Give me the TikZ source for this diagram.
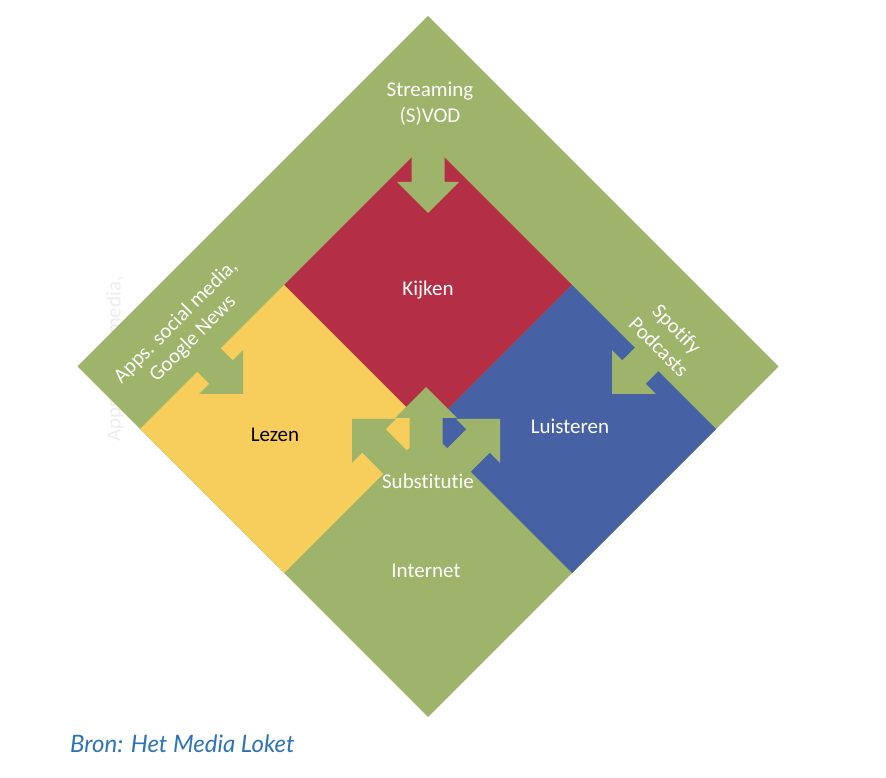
\documentclass[tikz,border=0pt]{standalone}
\usepackage{fontspec}
\setmainfont{Carlito}[Ligatures=NoCommon]
\newfontfamily\bronfont{Lato}
\definecolor{gr}{HTML}{9EB46A}
\definecolor{rd}{HTML}{B42E46}
\definecolor{yl}{HTML}{F7CE5C}
\definecolor{bl}{HTML}{4662A5}
\definecolor{ghost}{HTML}{EDEDED}
\definecolor{bron}{HTML}{2E74B5}
\newcommand{\garrow}[3]{%
  \begin{scope}[shift={#1},rotate=#2]
    \fill[gr] (0,0) -- (-31,31) -- (-31,16.5) -- (-31-#3,16.5) -- (-31-#3,-16.5) -- (-31,-16.5) -- (-31,-31) -- cycle;
  \end{scope}}
\tikzset{
  lbl/.style={font=\fontsize{21}{26}\selectfont, text=white, align=center, inner sep=0pt},
}
\begin{document}
\begin{tikzpicture}[x=1pt,y=1pt]
\useasboundingbox (0,0) rectangle (886,777);
% ghost text behind diamond
\node[lbl, text=ghost, rotate=90] (ghost) at (115,418) {Apps. social media,};
% big green diamond
\fill[gr] (428,761) -- (778.5,410.5) -- (428,60) -- (77.5,410.5) -- cycle;
% quadrants
\fill[rd] (428,636) -- (572,492) -- (428,348) -- (284,492) -- cycle;
\fill[yl] (284,492) -- (428,348) -- (284,204) -- (140,348) -- cycle;
\fill[bl] (572,492) -- (716,348) -- (572,204) -- (428,348) -- cycle;
% incoming arrows
\garrow{(428,564)}{-90}{55}
\garrow{(243,383)}{-45}{60}
\garrow{(612,383)}{-135}{60}
% substitution arrows
\garrow{(426,390)}{90}{85}
\garrow{(352,358)}{135}{80}
\garrow{(500,358)}{45}{80}
% labels
\node[lbl] (stream) at (430,673) {Streaming\\(S)VOD};
\node[lbl] (kijken) at (428,487) {Kijken};
\node[lbl, text=black] (lezen) at (275,342) {Lezen};
\node[lbl] (luist) at (570,351) {Luisteren};
\node[lbl] (subst) at (428,296) {Substitutie};
\node[lbl] (inet) at (426,206) {Internet};
\node[lbl, rotate=45] (apps1) at (176,455) {Apps. social media,};
\node[lbl, rotate=45] (apps2) at (193,438) {Google News};
\node[lbl, rotate=-45] (spot1) at (676,447) {Spotify};
\node[lbl, rotate=-45] (spot2) at (659,430) {Podcasts};
\node[anchor=base west, inner sep=0pt, text=bron, font=\bronfont\itshape\fontsize{24}{28}\selectfont] (bronlbl) at (70,25) {Bron: Het Media Loket};
\end{tikzpicture}
\end{document}
